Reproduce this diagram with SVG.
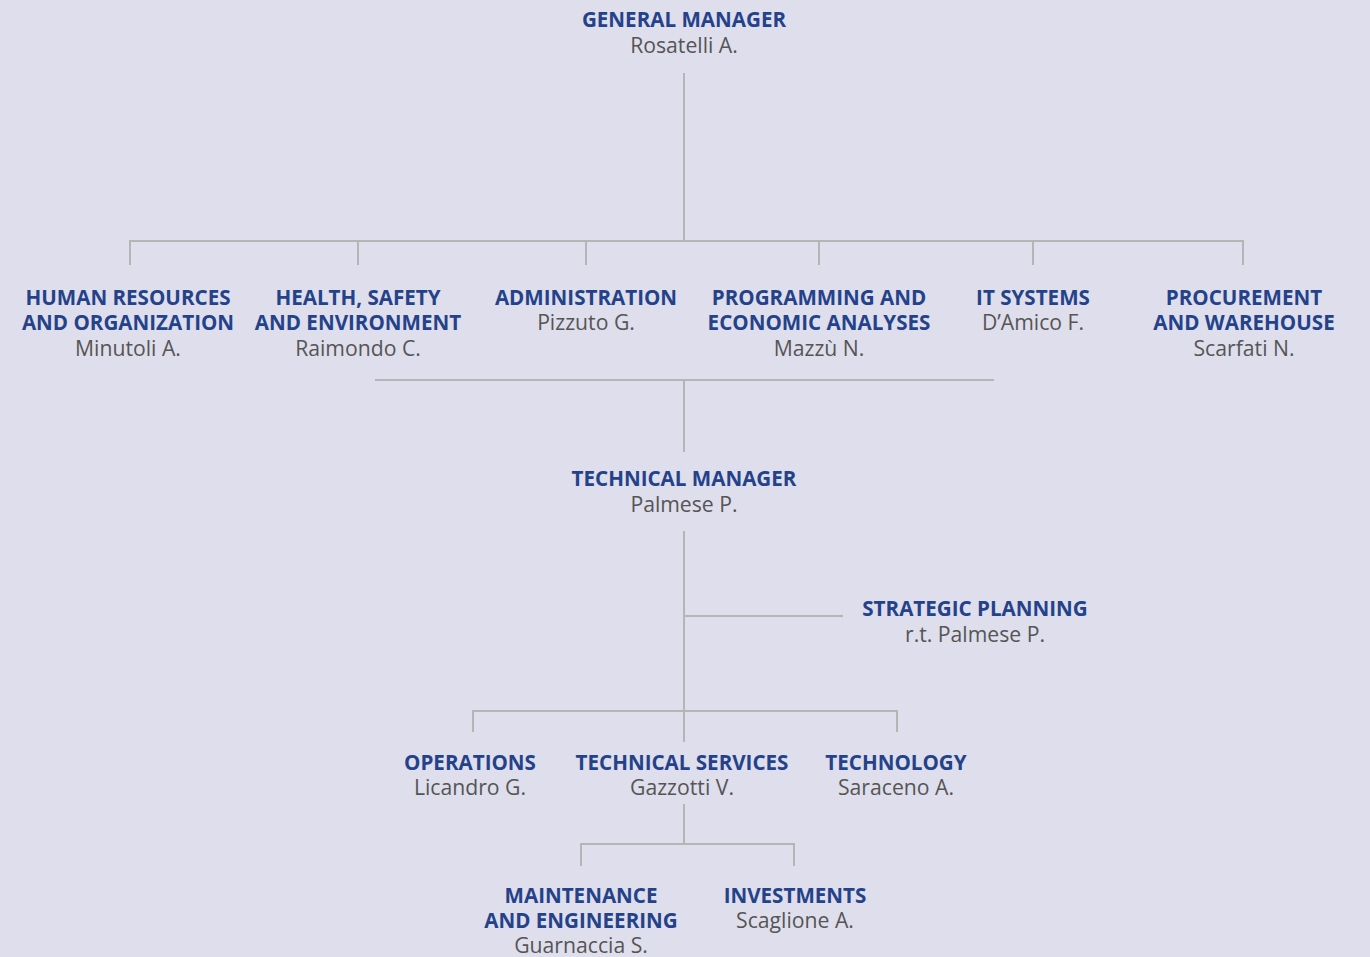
<svg xmlns="http://www.w3.org/2000/svg" width="1370" height="957" viewBox="0 0 1370 957">
<style>
.t{font-family:"Open Sans","Noto Sans",sans-serif;font-weight:700;font-size:20.6px;fill:#24428a;text-anchor:middle}
.n{font-family:"Open Sans","Noto Sans",sans-serif;font-weight:400;font-size:21.2px;fill:#555555;text-anchor:middle}
.c{stroke:#b5b5b5;stroke-width:2;fill:none}
</style>
<rect width="1370" height="957" fill="#dfdeec"/>
<g id="connectors" class="c">
<path d="M684 73V241M130 265V241H1243V265M358 241V265M586 241V265M819 241V265M1033 241V265"/>
<path d="M375 380H994M684 380V452"/>
<path d="M684 531V742M684 616H843"/>
<path d="M473 732V711H897V732"/>
<path d="M684 804V844M581 866V844H794V866"/>
</g>
<g id="general-manager"><text class="t" x="684" y="27">GENERAL MANAGER</text><text class="n" x="684" y="53">Rosatelli A.</text></g>
<g id="hr"><text class="t" x="128" y="305">HUMAN RESOURCES</text><text class="t" x="128" y="330">AND ORGANIZATION</text><text class="n" x="128" y="356">Minutoli A.</text></g>
<g id="hse"><text class="t" x="358" y="305">HEALTH, SAFETY</text><text class="t" x="358" y="330">AND ENVIRONMENT</text><text class="n" x="358" y="356">Raimondo C.</text></g>
<g id="administration"><text class="t" x="586" y="305">ADMINISTRATION</text><text class="n" x="586" y="330">Pizzuto G.</text></g>
<g id="programming"><text class="t" x="819" y="305">PROGRAMMING AND</text><text class="t" x="819" y="330">ECONOMIC ANALYSES</text><text class="n" x="819" y="356">Mazzù N.</text></g>
<g id="it-systems"><text class="t" x="1033" y="305">IT SYSTEMS</text><text class="n" x="1033" y="330">D’Amico F.</text></g>
<g id="procurement"><text class="t" x="1244" y="305">PROCUREMENT</text><text class="t" x="1244" y="330">AND WAREHOUSE</text><text class="n" x="1244" y="356">Scarfati N.</text></g>
<g id="technical-manager"><text class="t" x="684" y="486">TECHNICAL MANAGER</text><text class="n" x="684" y="512">Palmese P.</text></g>
<g id="strategic-planning"><text class="t" x="975" y="616">STRATEGIC PLANNING</text><text class="n" x="975" y="642">r.t. Palmese P.</text></g>
<g id="operations"><text class="t" x="470" y="770">OPERATIONS</text><text class="n" x="470" y="795">Licandro G.</text></g>
<g id="technical-services"><text class="t" x="682" y="770">TECHNICAL SERVICES</text><text class="n" x="682" y="795">Gazzotti V.</text></g>
<g id="technology"><text class="t" x="896" y="770">TECHNOLOGY</text><text class="n" x="896" y="795">Saraceno A.</text></g>
<g id="maintenance"><text class="t" x="581" y="903">MAINTENANCE</text><text class="t" x="581" y="928">AND ENGINEERING</text><text class="n" x="581" y="953">Guarnaccia S.</text></g>
<g id="investments"><text class="t" x="795" y="903">INVESTMENTS</text><text class="n" x="795" y="928">Scaglione A.</text></g>
</svg>
